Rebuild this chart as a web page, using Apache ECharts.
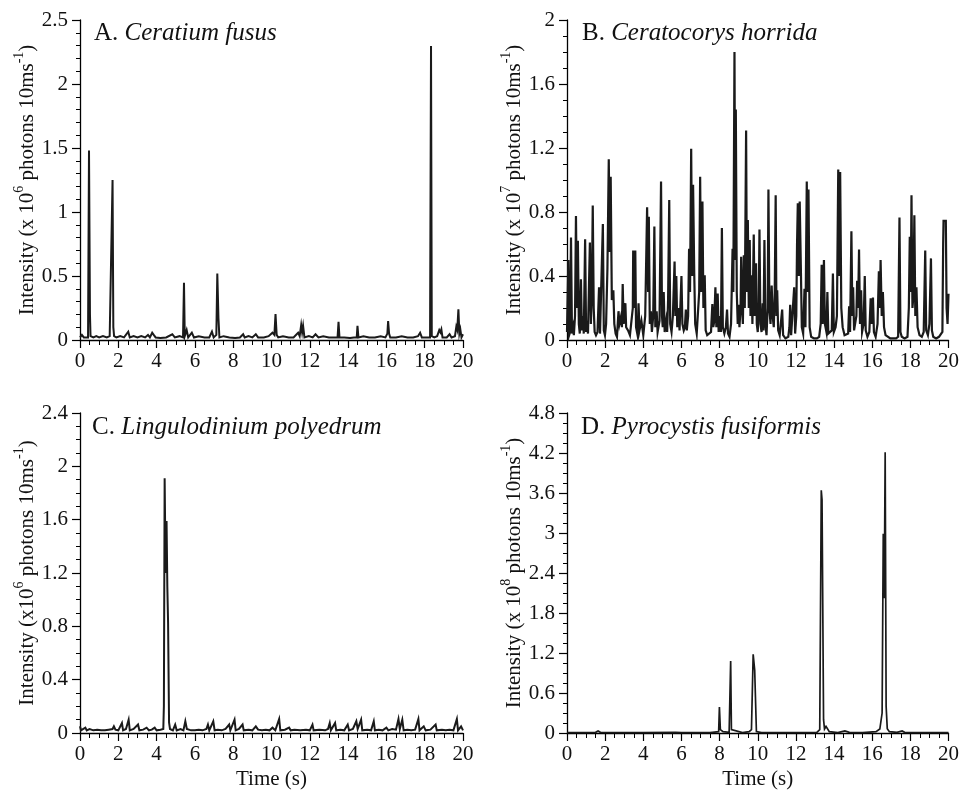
<!DOCTYPE html>
<html>
<head>
<meta charset="utf-8">
<script src="https://cdn.jsdelivr.net/npm/echarts@6/dist/echarts.min.js"></script>
<style>
html,body{margin:0;padding:0;background:#fff;}
#chart{width:962px;height:793px;}
</style>
</head>
<body>
<div id="chart"></div>
<script>
// Panel titles
const panelLetters = ['A. ', 'B. ', 'C. ', 'D. '];
const panelSpecies = ['Ceratium fusus', 'Ceratocorys horrida', 'Lingulodinium polyedrum', 'Pyrocystis fusiformis'];
const yExponents = ['6', '7', '6', '8'];
const yPrefix = ['x ', 'x ', 'x', 'x '];
const yMax = [2.5, 2, 2.4, 4.8];
const yInterval = [0.5, 0.4, 0.4, 0.6];
const yMinorSplits = [5, 4, 4, 4];
const xTicks = [0, 2, 4, 6, 8, 10, 12, 14, 16, 18, 20];

// Panel A: Ceratium fusus [time (s), intensity x1e6]
const dataA = [[0,0.02],[0.1,0.04],[0.2,0.02],[0.3,0.03],[0.42,0.02],[0.47,1.48],[0.52,0.2],[0.55,0.03],[0.7,0.02],[0.85,0.03],[1.0,0.02],[1.2,0.03],[1.4,0.02],[1.55,0.03],[1.65,0.02],[1.7,1.25],[1.74,0.1],[1.78,0.03],[1.9,0.02],[2.1,0.03],[2.3,0.02],[2.52,0.065],[2.6,0.02],[2.8,0.03],[3.0,0.02],[3.2,0.03],[3.4,0.02],[3.55,0.04],[3.65,0.02],[3.77,0.057],[3.85,0.04],[3.95,0.02],[4.2,0.015],[4.5,0.02],[4.82,0.045],[4.95,0.02],[5.2,0.03],[5.38,0.02],[5.43,0.448],[5.47,0.03],[5.57,0.078],[5.65,0.02],[5.84,0.057],[5.95,0.02],[6.2,0.03],[6.5,0.02],[6.75,0.02],[6.89,0.065],[6.98,0.02],[7.12,0.04],[7.17,0.52],[7.23,0.17],[7.28,0.02],[7.5,0.03],[7.8,0.02],[8.1,0.015],[8.35,0.02],[8.52,0.045],[8.6,0.02],[8.8,0.03],[9.0,0.02],[9.18,0.045],[9.3,0.02],[9.6,0.02],[9.85,0.03],[10.05,0.057],[10.15,0.04],[10.21,0.203],[10.27,0.04],[10.35,0.02],[10.6,0.03],[10.9,0.02],[11.15,0.02],[11.39,0.057],[11.47,0.03],[11.55,0.117],[11.6,0.06],[11.65,0.11],[11.72,0.02],[11.95,0.03],[12.15,0.02],[12.3,0.045],[12.45,0.02],[12.7,0.03],[13.0,0.02],[13.25,0.02],[13.45,0.02],[13.5,0.143],[13.55,0.02],[13.8,0.02],[14.1,0.015],[14.3,0.02],[14.45,0.02],[14.49,0.11],[14.54,0.02],[14.8,0.03],[15.1,0.02],[15.4,0.02],[15.7,0.03],[15.95,0.02],[16.05,0.05],[16.09,0.148],[16.14,0.05],[16.2,0.02],[16.5,0.02],[16.8,0.03],[17.1,0.02],[17.4,0.02],[17.65,0.03],[17.76,0.057],[17.85,0.02],[18.05,0.02],[18.28,0.02],[18.33,2.297],[18.37,0.03],[18.5,0.02],[18.65,0.03],[18.72,0.06],[18.76,0.078],[18.82,0.06],[18.87,0.083],[18.93,0.02],[19.15,0.02],[19.3,0.045],[19.4,0.02],[19.58,0.03],[19.65,0.104],[19.7,0.08],[19.76,0.24],[19.81,0.05],[19.86,0.083],[19.92,0.02],[20,0.045]];

// Panel B: Ceratocorys horrida [time (s), intensity x1e7]
const dataB = [[0,0.05],[0.03,0.04],[0.07,0.5],[0.11,0.03],[0.16,0.05],[0.21,0.64],[0.26,0.04],[0.32,0.08],[0.36,0.03],[0.42,0.15],[0.47,0.775],[0.52,0.2],[0.57,0.62],[0.62,0.1],[0.67,0.04],[0.73,0.38],[0.78,0.06],[0.84,0.15],[0.88,0.04],[0.95,0.63],[1.0,0.05],[1.05,0.12],[1.1,0.04],[1.2,0.61],[1.25,0.1],[1.3,0.28],[1.35,0.84],[1.4,0.2],[1.45,0.05],[1.52,0.03],[1.6,0.05],[1.68,0.33],[1.73,0.04],[1.8,0.03],[1.88,0.725],[1.93,0.06],[1.99,0.03],[2.05,0.1],[2.12,0.45],[2.19,1.13],[2.24,0.55],[2.29,1.02],[2.35,0.25],[2.43,0.31],[2.48,0.1],[2.55,0.04],[2.62,0.02],[2.7,0.18],[2.75,0.1],[2.82,0.14],[2.88,0.08],[2.92,0.35],[2.97,0.1],[3.06,0.23],[3.1,0.08],[3.2,0.06],[3.3,0.03],[3.4,0.04],[3.45,0.2],[3.47,0.56],[3.52,0.2],[3.58,0.56],[3.62,0.08],[3.7,0.03],[3.75,0.23],[3.8,0.06],[3.9,0.12],[4.0,0.03],[4.1,0.15],[4.2,0.83],[4.25,0.3],[4.29,0.77],[4.34,0.1],[4.4,0.18],[4.45,0.05],[4.52,0.15],[4.58,0.71],[4.63,0.08],[4.7,0.18],[4.75,0.05],[4.85,0.12],[4.93,0.99],[4.98,0.15],[5.02,0.08],[5.07,0.3],[5.12,0.05],[5.2,0.12],[5.25,0.05],[5.3,0.25],[5.36,0.875],[5.41,0.1],[5.48,0.05],[5.55,0.15],[5.64,0.49],[5.68,0.15],[5.73,0.4],[5.78,0.08],[5.85,0.2],[5.9,0.06],[6.0,0.4],[6.05,0.1],[6.12,0.06],[6.18,0.08],[6.23,0.19],[6.28,0.06],[6.35,0.15],[6.4,0.57],[6.45,0.3],[6.51,1.195],[6.56,0.4],[6.61,0.97],[6.67,0.42],[6.72,0.1],[6.8,0.04],[6.88,0.03],[6.93,0.3],[6.98,1.02],[7.03,0.3],[7.1,0.865],[7.15,0.2],[7.22,0.405],[7.27,0.06],[7.35,0.03],[7.45,0.02],[7.55,0.05],[7.62,0.225],[7.67,0.08],[7.72,0.12],[7.78,0.33],[7.83,0.08],[7.9,0.29],[7.95,0.05],[8.02,0.15],[8.07,0.05],[8.12,0.7],[8.17,0.08],[8.25,0.04],[8.33,0.08],[8.39,0.19],[8.44,0.04],[8.52,0.02],[8.6,0.1],[8.68,0.57],[8.72,0.3],[8.78,1.8],[8.82,0.5],[8.85,1.44],[8.9,0.3],[8.95,0.1],[8.99,0.22],[9.04,0.08],[9.1,0.2],[9.13,0.52],[9.18,0.2],[9.22,0.1],[9.27,0.53],[9.32,0.2],[9.39,1.31],[9.43,0.3],[9.48,0.75],[9.53,0.2],[9.58,0.625],[9.62,0.15],[9.67,0.405],[9.72,0.1],[9.79,0.66],[9.84,0.15],[9.91,0.48],[9.95,0.1],[10.0,0.05],[10.05,0.2],[10.09,0.69],[10.14,0.1],[10.2,0.05],[10.26,0.23],[10.3,0.06],[10.35,0.625],[10.4,0.1],[10.46,0.03],[10.52,0.2],[10.56,0.94],[10.61,0.2],[10.67,0.1],[10.73,0.34],[10.78,0.15],[10.84,0.08],[10.89,0.3],[10.94,0.905],[10.98,0.15],[11.02,0.31],[11.07,0.06],[11.15,0.03],[11.22,0.02],[11.28,0.19],[11.33,0.03],[11.45,0.01],[11.6,0.02],[11.66,0.08],[11.7,0.22],[11.75,0.03],[11.85,0.04],[11.91,0.33],[11.96,0.04],[12.02,0.15],[12.06,0.6],[12.1,0.855],[12.15,0.4],[12.2,0.865],[12.26,0.45],[12.31,0.08],[12.38,0.04],[12.45,0.32],[12.5,0.08],[12.57,0.99],[12.62,0.3],[12.66,0.94],[12.72,0.08],[12.8,0.02],[12.95,0.01],[13.1,0.01],[13.22,0.02],[13.3,0.1],[13.35,0.47],[13.4,0.1],[13.47,0.5],[13.52,0.1],[13.6,0.05],[13.65,0.3],[13.7,0.04],[13.8,0.03],[13.88,0.06],[13.94,0.415],[13.99,0.05],[14.08,0.08],[14.15,0.15],[14.22,1.065],[14.27,0.4],[14.32,1.05],[14.38,0.2],[14.45,0.08],[14.55,0.03],[14.65,0.02],[14.74,0.04],[14.79,0.21],[14.84,0.05],[14.91,0.68],[14.96,0.15],[15.0,0.33],[15.05,0.06],[15.12,0.05],[15.17,0.15],[15.21,0.37],[15.26,0.2],[15.31,0.565],[15.36,0.1],[15.42,0.31],[15.47,0.05],[15.55,0.1],[15.61,0.4],[15.66,0.06],[15.75,0.02],[15.85,0.05],[15.92,0.26],[15.97,0.1],[16.04,0.265],[16.09,0.05],[16.18,0.02],[16.28,0.1],[16.35,0.43],[16.4,0.2],[16.44,0.5],[16.5,0.15],[16.56,0.3],[16.62,0.08],[16.7,0.03],[16.8,0.02],[16.95,0.01],[17.1,0.01],[17.25,0.01],[17.36,0.02],[17.43,0.765],[17.48,0.05],[17.55,0.02],[17.7,0.01],[17.85,0.02],[17.92,0.2],[17.97,0.645],[18.02,0.3],[18.06,0.905],[18.11,0.2],[18.16,0.27],[18.21,0.78],[18.26,0.15],[18.32,0.33],[18.38,0.08],[18.48,0.03],[18.6,0.02],[18.7,0.05],[18.78,0.56],[18.83,0.06],[18.92,0.03],[19.0,0.1],[19.08,0.51],[19.13,0.06],[19.2,0.02],[19.35,0.01],[19.5,0.02],[19.6,0.01],[19.68,0.05],[19.72,0.6],[19.74,0.745],[19.86,0.745],[19.9,0.2],[19.95,0.1],[20,0.29]];

// Panel C: Lingulodinium polyedrum [time (s), intensity x1e6]
const dataC = [[0,0.05],[0.05,0.02],[0.15,0.03],[0.28,0.04],[0.35,0.02],[0.5,0.03],[0.7,0.02],[0.9,0.025],[1.1,0.02],[1.3,0.02],[1.5,0.025],[1.7,0.03],[1.77,0.05],[1.85,0.025],[2.0,0.02],[2.19,0.075],[2.25,0.02],[2.4,0.03],[2.54,0.1],[2.6,0.02],[2.8,0.03],[3.03,0.063],[3.1,0.02],[3.3,0.025],[3.48,0.04],[3.6,0.02],[3.75,0.025],[3.9,0.04],[4.0,0.02],[4.2,0.025],[4.35,0.03],[4.38,0.2],[4.42,1.91],[4.47,1.2],[4.52,1.59],[4.56,1.1],[4.6,0.825],[4.65,0.08],[4.7,0.03],[4.85,0.02],[4.97,0.063],[5.05,0.02],[5.25,0.03],[5.4,0.02],[5.5,0.088],[5.58,0.03],[5.8,0.02],[6.0,0.02],[6.2,0.025],[6.4,0.02],[6.6,0.03],[6.68,0.063],[6.75,0.02],[6.96,0.088],[7.03,0.02],[7.2,0.025],[7.4,0.02],[7.6,0.03],[7.79,0.063],[7.85,0.02],[8.07,0.1],[8.13,0.02],[8.3,0.03],[8.49,0.063],[8.55,0.02],[8.8,0.025],[9.0,0.02],[9.18,0.05],[9.3,0.025],[9.5,0.02],[9.7,0.025],[9.9,0.02],[10.05,0.04],[10.2,0.02],[10.4,0.105],[10.46,0.02],[10.7,0.025],[10.92,0.04],[11.0,0.02],[11.2,0.025],[11.5,0.02],[11.8,0.025],[12.0,0.02],[12.14,0.063],[12.2,0.02],[12.5,0.025],[12.8,0.02],[12.95,0.03],[13.04,0.075],[13.1,0.02],[13.32,0.075],[13.38,0.02],[13.6,0.025],[13.8,0.02],[13.98,0.063],[14.05,0.02],[14.25,0.03],[14.43,0.088],[14.5,0.03],[14.68,0.1],[14.74,0.02],[15.0,0.025],[15.2,0.02],[15.34,0.088],[15.4,0.02],[15.6,0.025],[15.8,0.02],[16.0,0.04],[16.1,0.02],[16.3,0.03],[16.5,0.025],[16.63,0.105],[16.7,0.03],[16.83,0.1],[16.9,0.02],[17.1,0.025],[17.3,0.02],[17.5,0.025],[17.67,0.105],[17.73,0.02],[17.95,0.05],[18.05,0.02],[18.3,0.025],[18.57,0.063],[18.63,0.02],[18.9,0.025],[19.1,0.02],[19.3,0.025],[19.5,0.02],[19.68,0.105],[19.74,0.02],[19.9,0.05],[20,0.02]];

// Panel D: Pyrocystis fusiformis [time (s), intensity x1e8]
const dataD = [[0,0.005],[1.0,0.005],[1.5,0.01],[1.63,0.03],[1.75,0.01],[2.5,0.005],[4,0.005],[5.7,0.01],[6,0.005],[7.5,0.005],[7.95,0.02],[7.99,0.39],[8.04,0.05],[8.11,0.075],[8.18,0.02],[8.5,0.01],[8.58,1.08],[8.62,0.05],[8.7,0.02],[9.2,0.005],[9.55,0.02],[9.67,0.05],[9.76,1.18],[9.84,0.94],[9.93,0.02],[10.2,0.005],[11,0.005],[12,0.005],[13.1,0.01],[13.25,0.05],[13.33,3.64],[13.37,3.5],[13.45,0.2],[13.5,0.06],[13.58,0.1],[13.65,0.09],[13.75,0.02],[14.2,0.005],[14.57,0.03],[14.8,0.01],[15.5,0.005],[16.2,0.02],[16.4,0.06],[16.52,0.3],[16.58,2.99],[16.63,2.02],[16.68,4.21],[16.73,0.4],[16.79,0.065],[16.9,0.02],[17.3,0.01],[17.57,0.03],[17.7,0.01],[18.5,0.005],[20,0.005]];

const panelData = [dataA, dataB, dataC, dataD];
const lineWidths = [2, 2.2, 2, 1.7];

const FONT = '"Liberation Serif", "Times New Roman", serif';
const grids = [
  {left: 80, top: 20, width: 383, height: 320},
  {left: 567, top: 20, width: 384, height: 320},
  {left: 80, top: 413, width: 383, height: 320},
  {left: 567, top: 413, width: 384, height: 320}
];

const chart = echarts.init(document.getElementById('chart'), null, {renderer: 'canvas'});

const axisCommon = {
  axisLine: {lineStyle: {color: '#000', width: 1.3}},
  axisTick: {length: 8, lineStyle: {color: '#000', width: 1.2}},
  splitLine: {show: false},
  axisLabel: {color: '#111', fontFamily: FONT, fontSize: 21}
};

const xAxes = grids.map((g, i) => Object.assign({}, axisCommon, {
  type: 'value', gridIndex: i, min: xTicks[0], max: xTicks[xTicks.length - 1], interval: xTicks[1] - xTicks[0],
  minorTick: {show: true, splitNumber: 4, length: 5, lineStyle: {color: '#000', width: 1}},
  axisLabel: Object.assign({}, axisCommon.axisLabel, {margin: 11}),
  name: i >= 2 ? 'Time (s)' : '',
  nameLocation: 'middle', nameGap: 36,
  nameTextStyle: {color: '#111', fontFamily: FONT, fontSize: 21}
}));

const yAxes = grids.map((g, i) => Object.assign({}, axisCommon, {
  type: 'value', gridIndex: i, min: 0, max: yMax[i], interval: yInterval[i],
  minorTick: {show: true, splitNumber: yMinorSplits[i], length: 4, lineStyle: {color: '#000', width: 1}},
  axisLabel: Object.assign({}, axisCommon.axisLabel, {margin: 12}),
  name: '{n|Intensity (' + yPrefix[i] + '10}{s|' + yExponents[i] + '}{n| photons 10ms}{s|-1}{n|)}',
  nameLocation: 'middle', nameRotate: 90, nameGap: 38,
  nameTextStyle: {
    rich: {
      n: {fontFamily: FONT, fontSize: 21, color: '#111', lineHeight: 30, verticalAlign: 'middle'},
      s: {fontFamily: FONT, fontSize: 14, color: '#111', lineHeight: 14, verticalAlign: 'top'}
    }
  }
}));

const titlePos = [{left: 94, top: 18}, {left: 582, top: 18}, {left: 92, top: 412}, {left: 581, top: 412}];
const titles = titlePos.map((p, i) => ({
  left: p.left, top: p.top, padding: 0,
  text: '{n|' + panelLetters[i] + '}{i|' + panelSpecies[i] + '}',
  textStyle: {
    fontWeight: 'normal',
    rich: {
      n: {fontFamily: FONT, fontSize: 25, fontWeight: 'normal', color: '#111', lineHeight: 30},
      i: {fontFamily: FONT, fontSize: 25, fontWeight: 'normal', fontStyle: 'italic', color: '#111', lineHeight: 30}
    }
  }
}));

const series = panelData.map((d, i) => ({
  type: 'line', xAxisIndex: i, yAxisIndex: i, data: d,
  showSymbol: false, symbol: 'none', animation: false,
  lineStyle: {color: '#1a1a1a', width: lineWidths[i], join: 'miter'}
}));

chart.setOption({
  animation: false,
  backgroundColor: '#fff',
  title: titles,
  grid: grids,
  xAxis: xAxes,
  yAxis: yAxes,
  series: series
});
</script>
</body>
</html>
